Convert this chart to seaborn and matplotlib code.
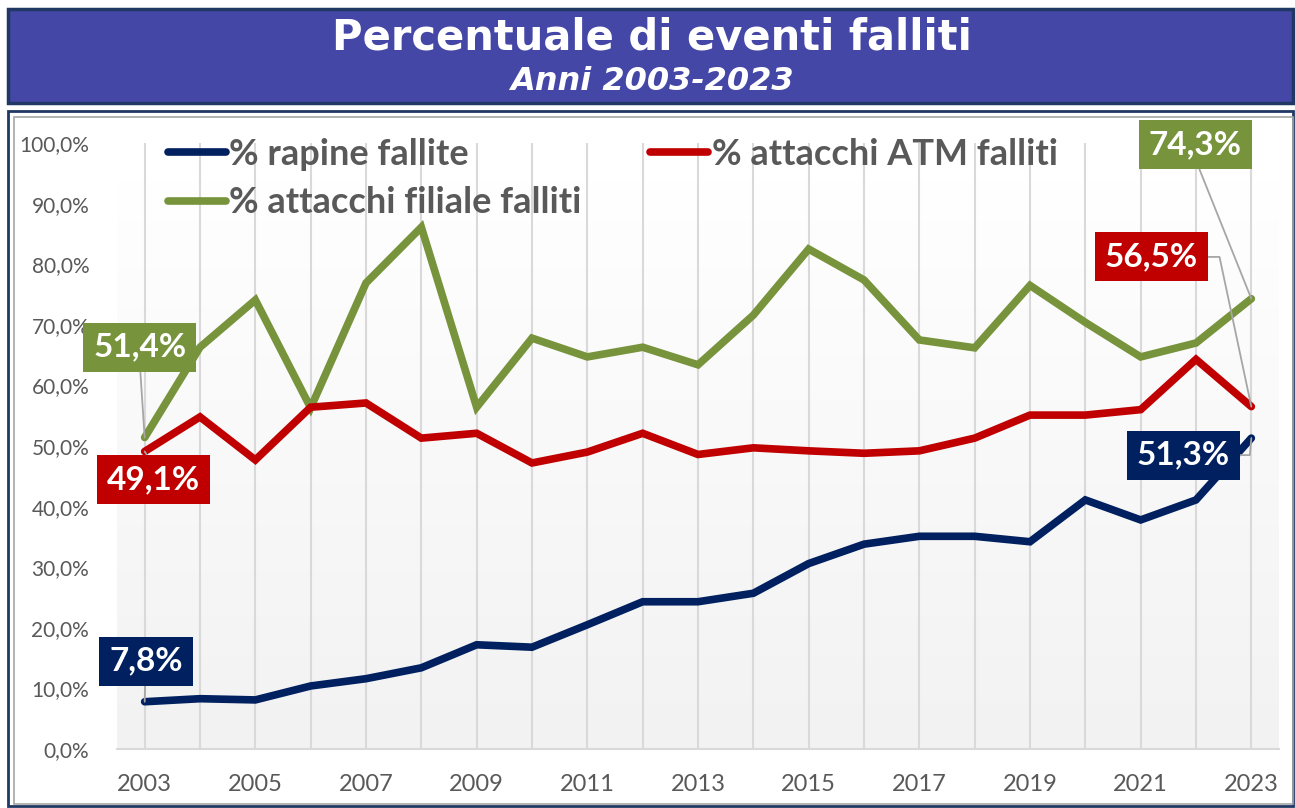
import numpy as np
import pandas as pd
import matplotlib
matplotlib.use("Agg")
import matplotlib.pyplot as plt
import seaborn as sns
from matplotlib.patches import Rectangle
from matplotlib.colors import LinearSegmentedColormap
from matplotlib.ticker import FuncFormatter

# --- dati ---
anni = list(range(2003, 2024))
rapine = [7.8, 8.3, 8.1, 10.4, 11.6, 13.4, 17.2, 16.8, 20.5, 24.3, 24.3,
          25.7, 30.6, 33.8, 35.1, 35.1, 34.2, 41.1, 37.8, 41.1, 51.3]
atm = [49.1, 54.8, 47.7, 56.4, 57.1, 51.3, 52.1, 47.2, 49.0, 52.1, 48.6,
       49.7, 49.2, 48.8, 49.2, 51.3, 55.1, 55.1, 56.0, 64.3, 56.5]
filiale = [51.4, 66.3, 74.1, 56.3, 76.9, 86.1, 56.4, 67.8, 64.7, 66.3, 63.4,
           71.6, 82.5, 77.4, 67.5, 66.2, 76.5, 70.4, 64.7, 67.0, 74.3]

serie = ["% rapine fallite", "% attacchi filiale falliti", "% attacchi ATM falliti"]
colori = {"% rapine fallite": "#002060",
          "% attacchi ATM falliti": "#C00000",
          "% attacchi filiale falliti": "#77933C"}

df = pd.DataFrame({"Anno": anni,
                   "% rapine fallite": np.array(rapine) / 100,
                   "% attacchi ATM falliti": np.array(atm) / 100,
                   "% attacchi filiale falliti": np.array(filiale) / 100})
df_long = df.melt(id_vars="Anno", var_name="Serie", value_name="Valore")

W, H = 1295, 808
fig = plt.figure(figsize=(W / 100, H / 100), dpi=100)
sns.set_style("white")
plt.rcParams["font.family"] = ["Lato", "DejaVu Sans"]

# --- banner titolo ---
fig.patches.append(Rectangle((8 / W, 1 - 103 / H), 1285 / W, 94 / H,
                             transform=fig.transFigure, facecolor="#4547A6",
                             edgecolor="#1F3864", lw=2.5, zorder=-2))
fig.text(652 / W, 1 - 38 / H, "Percentuale di eventi falliti", ha="center", va="center",
         color="white", fontsize=30, fontweight="bold", family="DejaVu Sans")
fig.text(652 / W, 1 - 81 / H, "Anni 2003-2023", ha="center", va="center",
         color="white", fontsize=23, fontweight="bold", style="italic", family="DejaVu Sans")

# cornice area grafico
fig.patches.append(Rectangle((8 / W, 2 / H), 1285 / W, (H - 113) / H,
                             transform=fig.transFigure, facecolor="white",
                             edgecolor="#1F3864", lw=2, zorder=-2))
fig.patches.append(Rectangle((14 / W, 4 / H), 1279 / W, (H - 121) / H,
                             transform=fig.transFigure, facecolor="none",
                             edgecolor="#a6a6a6", lw=1.2, zorder=-1))

ax = fig.add_axes([117 / W, 1 - 749 / H, (1279 - 117) / W, (749 - 143) / H])
ax.set_zorder(2)
ax.set_facecolor("none")

# sfondo sfumato dell'area del tracciato
cmap = LinearSegmentedColormap.from_list("grad", ["#f2f2f2", "#ffffff"])
ax.imshow(np.linspace(0, 1, 100)[:, None], extent=[2002.5, 2023.5, 0, 0.944],
          aspect="auto", cmap=cmap, origin="lower", zorder=0)

sns.lineplot(data=df_long, x="Anno", y="Valore", hue="Serie", hue_order=serie,
             palette=colori, lw=5.5, ax=ax, zorder=3, solid_capstyle="round",
             solid_joinstyle="miter")

ax.set_xlim(2002.5, 2023.5)
ax.set_ylim(0, 1.0)
ax.set_xticks(anni[::2])
ax.set_xticks(anni, minor=True)
ax.set_yticks(np.arange(0, 1.01, 0.1))
ax.yaxis.set_major_formatter(FuncFormatter(lambda v, p: f"{v * 100:.1f}%".replace(".", ",")))
ax.grid(axis="x", which="both", color="#d9d9d9", lw=1.5, zorder=1)
ax.grid(axis="y", visible=False)
ax.set_axisbelow(True)
ax.tick_params(axis="both", which="both", length=0)
ax.tick_params(axis="x", labelsize=17, labelcolor="#595959", pad=18)
ax.tick_params(axis="y", labelsize=15, labelcolor="#595959", pad=20)
ax.set_xlabel("")
ax.set_ylabel("")
for s in ["top", "right", "left"]:
    ax.spines[s].set_visible(False)
ax.spines["bottom"].set_color("#d9d9d9")
ax.spines["bottom"].set_linewidth(1.5)

# legenda
handles, labels = ax.get_legend_handles_labels()
ax.legend(handles, labels, ncol=2, frameon=False, loc="upper left",
          bbox_to_anchor=(168 / W, 1 - 138 / H), bbox_transform=fig.transFigure,
          prop={"family": "Lato", "weight": "bold", "size": 26},
          labelcolor="#595959", handlelength=1.6, handletextpad=0.1,
          columnspacing=1.9, labelspacing=0.42, borderpad=0, borderaxespad=0)

# etichette dati
def etichetta(valore, anno, serie_nome, tx, ty, relpos, conn="arc3"):
    ax.annotate(f"{valore:.1f}%".replace(".", ","), xy=(anno, valore / 100),
                xytext=(tx, ty), textcoords="data", ha="center", va="center",
                color="white", fontsize=24, fontweight="bold", family="Lato",
                bbox=dict(boxstyle="square,pad=0.3", fc=colori[serie_nome], ec="none"),
                arrowprops=dict(arrowstyle="-", color="#a6a6a6", lw=1.3,
                                relpos=relpos, connectionstyle=conn,
                                shrinkA=0, shrinkB=0),
                annotation_clip=False, zorder=5)

etichetta(filiale[0], anni[0], "% attacchi filiale falliti", 2002.91, 0.663, (0.5, 0))
etichetta(atm[0], anni[0], "% attacchi ATM falliti", 2003.16, 0.444, (0.5, 1))
etichetta(rapine[0], anni[0], "% rapine fallite", 2003.02, 0.145, (0.5, 0.5))
etichetta(filiale[-1], anni[-1], "% attacchi filiale falliti", 2021.99, 0.997, (0.5, 0))
etichetta(atm[-1], anni[-1], "% attacchi ATM falliti", 2021.19, 0.812, (1, 0.5),
          "angle,angleA=0,angleB=102,rad=0")
etichetta(rapine[-1], anni[-1], "% rapine fallite", 2021.77, 0.485, (1, 0.5),
          "angle,angleA=0,angleB=-95,rad=0")

fig.savefig("out.png", dpi=100)
